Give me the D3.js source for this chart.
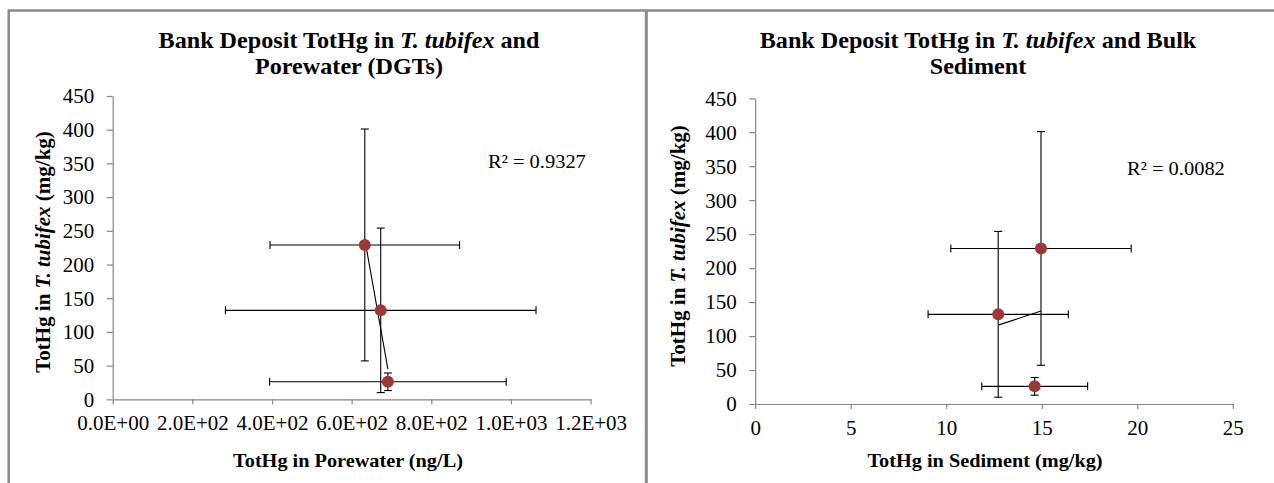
<!DOCTYPE html>
<html>
<head>
<meta charset="utf-8">
<script src="https://cdn.jsdelivr.net/npm/d3@7"></script>
<style>
  html, body { margin: 0; padding: 0; background: #fff; }
  svg { display: block; }
</style>
</head>
<body>
<svg id="chart" width="1274" height="483"></svg>
<script>
// Mean TotHg in T. tubifex (mg/kg) with standard deviation, shared by both panels
const wormHg = [229, 132, 26];
const wormHgSd = [172, 122, 13];

// Porewater (DGT) TotHg, ng/L
const poreHg = [633, 673, 691];
const poreHgSd = [238, 390, 297];

// Bulk sediment TotHg, mg/kg
const sedHg = [14.96, 12.72, 14.63];
const sedHgSd = [4.72, 3.67, 2.77];

// Axis ticks and their labels
const wormTicks = [0, 50, 100, 150, 200, 250, 300, 350, 400, 450];
const poreTicks = [0, 200, 400, 600, 800, 1000, 1200];
const poreTickLabels = ["0.0E+00", "2.0E+02", "4.0E+02", "6.0E+02", "8.0E+02", "1.0E+03", "1.2E+03"];
const sedTicks = [0, 5, 10, 15, 20, 25];
const sedTickLabels = ["0", "5", "10", "15", "20", "25"];

// Trendline fit statistics as reported on each panel
const r2Labels = ["R\u00B2 = 0.9327", "R\u00B2 = 0.0082"];

const FONT = "'Liberation Serif', 'Times New Roman', serif";
const WIDE = 1.05;          // the text face runs slightly wide
const AXIS_GREY = "#868686";
const MARKER = "#993837";

const svg = d3.select("#chart");

// Panel frames
const frame = svg.append("g").attr("stroke", "#8a8a8a").attr("fill", "none");
frame.append("line").attr("x1", 8).attr("x2", 1274).attr("y1", 10.5).attr("y2", 10.5).attr("stroke-width", 2.5);
frame.append("line").attr("x1", 8.7).attr("x2", 8.7).attr("y1", 10).attr("y2", 483).attr("stroke-width", 2.5);
frame.append("line").attr("x1", 646.3).attr("x2", 646.3).attr("y1", 10).attr("y2", 483).attr("stroke-width", 3);

// Draws a text made of plain / italic runs, stretched along its reading direction
function richText(g, x, y, runs, o) {
  const t = g.append("text")
    .attr("transform", `translate(${x},${y}) rotate(${o.rotate || 0}) scale(${o.sx || WIDE},1)`)
    .attr("text-anchor", o.anchor || "middle")
    .attr("font-family", FONT)
    .attr("font-size", o.size)
    .attr("font-weight", o.bold ? "bold" : "normal")
    .attr("fill", "#000");
  runs.forEach(r => {
    const s = t.append("tspan").text(r[0]);
    if (r[1]) s.attr("font-style", "italic");
  });
  return t;
}

function linearFit(xs, ys) {
  const mx = d3.mean(xs), my = d3.mean(ys);
  let sxy = 0, sxx = 0;
  xs.forEach((x, i) => { sxy += (x - mx) * (ys[i] - my); sxx += (x - mx) * (x - mx); });
  const slope = sxy / sxx;
  return x => my + slope * (x - mx);
}

function panel(cfg) {
  const g = svg.append("g");
  const x = d3.scaleLinear().domain(cfg.xDomain).range(cfg.xRange);
  const y = d3.scaleLinear().domain([0, 450]).range(cfg.yRange);

  // Axes
  const yAxis = g.append("g").attr("transform", `translate(${cfg.xRange[0]},0)`)
    .call(d3.axisLeft(y).tickValues(wormTicks).tickSize(6).tickSizeOuter(0));
  const xAxis = g.append("g").attr("transform", `translate(0,${cfg.yRange[0]})`)
    .call(d3.axisBottom(x).tickValues(cfg.xTicks)
      .tickFormat((d, i) => cfg.xTickLabels[i]).tickSize(5).tickSizeOuter(0));
  [yAxis, xAxis].forEach(a => {
    a.select(".domain").attr("stroke", AXIS_GREY).attr("stroke-width", 1.2);
    a.selectAll(".tick line").attr("stroke", AXIS_GREY).attr("stroke-width", 1.2);
    a.selectAll(".tick text").attr("fill", "#000").attr("font-family", FONT).attr("font-size", 20);
  });
  yAxis.selectAll(".tick text").attr("x", -17.5).attr("dy", "0.34em")
    .attr("transform", `scale(${WIDE},1)`);
  xAxis.selectAll(".tick text").attr("y", 31).attr("dy", 0)
    .attr("transform", `scale(${WIDE},1)`);

  // Error bars
  const cap = 4;
  const eb = g.append("g").attr("stroke", "#000").attr("stroke-width", 1.1).attr("fill", "none");
  cfg.xs.forEach((xv, i) => {
    const cx = x(xv), cy = y(wormHg[i]);
    const y0 = y(wormHg[i] - wormHgSd[i]), y1 = y(wormHg[i] + wormHgSd[i]);
    const x0 = x(xv - cfg.xsSd[i]), x1 = x(xv + cfg.xsSd[i]);
    eb.append("line").attr("x1", cx).attr("x2", cx).attr("y1", y0).attr("y2", y1);
    eb.append("line").attr("x1", cx - cap).attr("x2", cx + cap).attr("y1", y0).attr("y2", y0);
    eb.append("line").attr("x1", cx - cap).attr("x2", cx + cap).attr("y1", y1).attr("y2", y1);
    eb.append("line").attr("x1", x0).attr("x2", x1).attr("y1", cy).attr("y2", cy);
    eb.append("line").attr("x1", x0).attr("x2", x0).attr("y1", cy - cap).attr("y2", cy + cap);
    eb.append("line").attr("x1", x1).attr("x2", x1).attr("y1", cy - cap).attr("y2", cy + cap);
  });

  // Linear trendline across the data range
  const fit = linearFit(cfg.xs, wormHg);
  const [lo, hi] = d3.extent(cfg.xs);
  g.append("line")
    .attr("x1", x(lo)).attr("y1", y(fit(lo)))
    .attr("x2", x(hi)).attr("y2", y(fit(hi)))
    .attr("stroke", "#000").attr("stroke-width", 1.1);

  // Markers
  g.append("g").selectAll("circle").data(cfg.xs).join("circle")
    .attr("cx", d => x(d)).attr("cy", (d, i) => y(wormHg[i]))
    .attr("r", 6).attr("fill", MARKER);

  // Titles and labels
  cfg.title.forEach((line, i) =>
    richText(g, cfg.titleX, 48 + i * 26, line, { size: 23, bold: true, sx: 1.05 }));
  richText(g, cfg.xTitleX, 467, [[cfg.xTitle]], { size: 19.5, bold: true, sx: 1.04 });
  richText(g, cfg.yTitleX, cfg.yTitleY,
    [["TotHg in "], ["T. tubifex", true], [" (mg/kg)"]],
    { size: 20, bold: true, rotate: -90, sx: 1.05 });
  richText(g, cfg.r2X, cfg.r2Y, [[cfg.r2]], { size: 19.5, anchor: "start", sx: 1.05 });
}

panel({
  xDomain: [0, 1200], xRange: [112.7, 590.6], yRange: [399.3, 96],
  xTicks: poreTicks, xTickLabels: poreTickLabels,
  xs: poreHg, xsSd: poreHgSd,
  title: [[["Bank Deposit TotHg in "], ["T. tubifex", true], [" and"]], [["Porewater (DGTs)"]]],
  titleX: 349,
  xTitle: "TotHg in  Porewater (ng/L)", xTitleX: 348,
  yTitleX: 50, yTitleY: 252,
  r2: r2Labels[0], r2X: 488, r2Y: 168
});

panel({
  xDomain: [0, 25], xRange: [755.2, 1232.8], yRange: [404, 98.3],
  xTicks: sedTicks, xTickLabels: sedTickLabels,
  xs: sedHg, xsSd: sedHgSd,
  title: [[["Bank Deposit TotHg in "], ["T. tubifex", true], [" and Bulk"]], [["Sediment"]]],
  titleX: 978,
  xTitle: "TotHg in Sediment (mg/kg)", xTitleX: 985,
  yTitleX: 685, yTitleY: 246,
  r2: r2Labels[1], r2X: 1127, r2Y: 175
});
</script>
</body>
</html>
